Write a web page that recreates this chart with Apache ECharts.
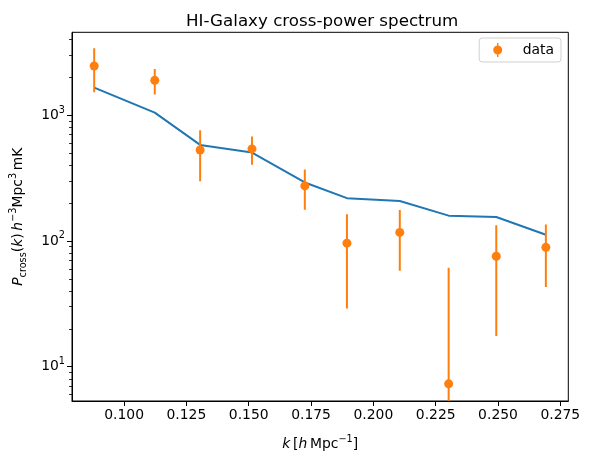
<!DOCTYPE html>
<html><head><meta charset="utf-8">
<script src="https://cdn.jsdelivr.net/npm/echarts@6/dist/echarts.min.js"></script>
<style>html,body{margin:0;padding:0;background:#fff}#c{width:590px;height:462px}</style>
</head><body><div id="c"></div>
<script>
var kValues = [0.088, 0.1123, 0.1305, 0.1513, 0.1725, 0.1894, 0.2106, 0.2302, 0.2493, 0.2692];
var dataValues = [2466, 1897, 529, 540, 274, 96, 117, 7.3, 75.5, 89];
var dataErrors = [940, 432, 231, 137, 97, 67, 59, 54, 58, 46];
var modelValues = [1660, 1049, 581, 505, 292, 219, 208, 159, 155, 112];
var xTicks = [0.100, 0.125, 0.150, 0.175, 0.200, 0.225, 0.250, 0.275];
var yTicks = [10, 100, 1000];
var yMin = 5.33, yMax = 4571, xMin = 0.0791, xMax = 0.2782;

var minorTicks = [];
[1, 10, 100, 1000].forEach(function (d) {
  for (var m = 2; m <= 9; m++) { var v = m * d; if (v > yMin && v < yMax) minorTicks.push(v); }
});

var F = 'DejaVu Sans';
var fs = 13.9, ss = 9.7;
var rich = {
  n: {fontFamily: F, fontSize: fs, color: '#000'},
  i: {fontFamily: F, fontSize: fs, fontStyle: 'italic', color: '#000'},
  sup: {fontFamily: F, fontSize: ss, color: '#000', verticalAlign: 'top', lineHeight: 20},
  sub: {fontFamily: F, fontSize: ss, color: '#000', verticalAlign: 'bottom', lineHeight: 20}
};

var errData = kValues.map(function (k, i) { return [k, dataValues[i], dataErrors[i]]; });
var ptData = kValues.map(function (k, i) { return [k, dataValues[i]]; });
var modelData = kValues.map(function (k, i) { return [k, modelValues[i]]; });

var chart = echarts.init(document.getElementById('c'), null, {renderer: 'canvas'});
chart.setOption({
  animation: false,
  backgroundColor: '#fff',
  title: {
    text: 'HI-Galaxy cross-power spectrum', left: 181, top: 8,
    textStyle: {fontFamily: F, fontSize: 16.7, fontWeight: 'normal', color: '#000'}
  },
  legend: {
    data: [{name: 'data', icon: 'path://M4.3,0 H5.7 V14 H4.3 Z M0.5,7 A4.5,4.5 0 1,1 9.5,7 A4.5,4.5 0 1,1 0.5,7 Z'}],
    right: 29, top: 38, itemWidth: 10, itemHeight: 14,
    padding: [5, 7, 5, 14],
    borderColor: '#d0d0d0', borderWidth: 1, borderRadius: 3,
    textStyle: {fontFamily: F, fontSize: fs, color: '#000', padding: [0, 0, 0, 15]}
  },
  grid: {left: 72, right: 21.7, top: 32.3, bottom: 61, outerBoundsMode: 'none', containLabel: false,
    show: true, borderColor: '#000', borderWidth: 1, backgroundColor: 'transparent'},
  xAxis: {
    type: 'value', min: xMin, max: xMax,
    name: '{i|k}{n|\u2009[}{i|h}{n|\u2009Mpc}{sup|\u22121}{n|]}',
    nameLocation: 'middle', nameGap: 33,
    nameTextStyle: {rich: rich},
    axisLine: {show: true, lineStyle: {color: '#000', width: 1}},
    axisTick: {show: true, length: 5, lineStyle: {color: '#000', width: 1}, customValues: xTicks},
    axisLabel: {customValues: xTicks, margin: 7, fontFamily: F, fontSize: fs, color: '#000',
      formatter: function (v) { return v.toFixed(3); }},
    splitLine: {show: false}
  },
  yAxis: [{
    type: 'log', logBase: 10, min: yMin, max: yMax,
    name: '{i|P}{sub|cross}{n|(}{i|k}{n|)\u2009}{i|h}{sup|\u22123}{n|Mpc}{sup|3}{n|\u2009mK}',
    nameLocation: 'middle', nameGap: 44, nameRotate: 90,
    nameTextStyle: {rich: rich},
    axisLine: {show: true, lineStyle: {color: '#000', width: 1}},
    axisTick: {show: true, length: 5, lineStyle: {color: '#000', width: 1}, customValues: yTicks},
    axisLabel: {customValues: yTicks, margin: 7,
      formatter: function (v) { return '{n|10}{sup|' + Math.round(Math.log10(v)) + '}'; },
      rich: rich},
    splitLine: {show: false}, minorTick: {show: false}, minorSplitLine: {show: false}
  }, {
    type: 'log', logBase: 10, min: yMin, max: yMax, position: 'left',
    axisLine: {show: false},
    axisTick: {show: true, length: 3, lineStyle: {color: '#000', width: 0.8}, customValues: minorTicks},
    axisLabel: {show: false},
    splitLine: {show: false}
  }],
  series: [{
    type: 'line', name: 'model', data: modelData, showSymbol: false, symbol: 'none',
    lineStyle: {color: '#1f77b4', width: 2}, z: 2
  }, {
    type: 'custom', name: 'data', data: errData, clip: true, z: 3,
    itemStyle: {color: '#ff7f0e'},
    encode: {x: 0, y: 1},
    renderItem: function (params, api) {
      var x = api.value(0), y = api.value(1), e = api.value(2);
      var hi = api.coord([x, y + e]);
      var lo;
      if (y - e > 0) lo = api.coord([x, y - e]);
      else lo = [hi[0], params.coordSys.y + params.coordSys.height + 20];
      return {type: 'line', shape: {x1: hi[0], y1: hi[1], x2: lo[0], y2: lo[1]},
        style: {stroke: '#ff7f0e', lineWidth: 2}};
    }
  }, {
    type: 'scatter', name: 'data', data: ptData, symbol: 'circle', symbolSize: 9,
    itemStyle: {color: '#ff7f0e', opacity: 1}, z: 4
  }]
});
</script></body></html>
